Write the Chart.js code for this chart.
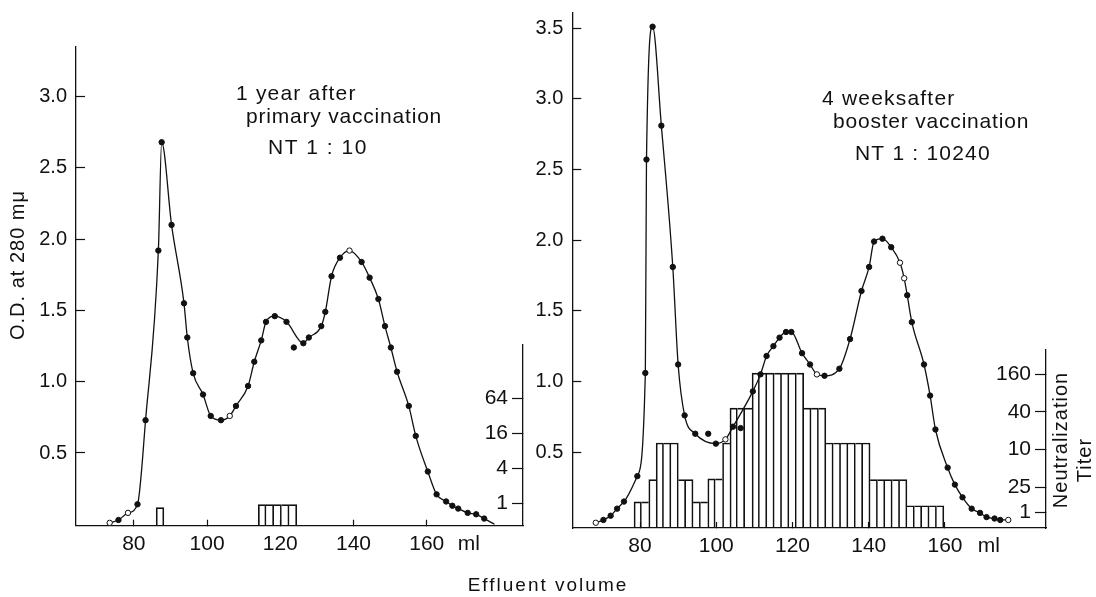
<!DOCTYPE html>
<html>
<head>
<meta charset="utf-8">
<script src="https://cdn.jsdelivr.net/npm/chart.js@4.4.1/dist/chart.umd.min.js"></script>
<style>
  body { margin: 0; background: #fff; }
  #page { position: relative; width: 1096px; height: 597px; background: #fff; overflow: hidden; }
  .panel { position: absolute; top: 0; height: 575px; }
  #xtitle { position: absolute; left: 0; top: 574px; width: 1096px; height: 24px; line-height: 24px;
            text-align: center; font: 19px 'Liberation Sans', Arial, sans-serif; letter-spacing: 2px; color: #111; }
</style>
</head>
<body>
<div id="page">
  <div class="panel" style="left:0;width:540px"><canvas id="leftChart"></canvas></div>
  <div class="panel" style="left:500px;width:596px"><canvas id="rightChart"></canvas></div>
  <div id="xtitle">Effluent volume</div>
</div>
<script>
// ---- left panel: 1 year after primary vaccination ----
const leftVolume = [73.4, 75.8, 78.4, 81.0, 83.2, 86.7, 87.6, 90.3, 93.7, 94.6, 96.2, 98.9, 101.0, 103.8, 106.2,
  107.9, 111.2, 112.9, 114.8, 116.1, 118.5, 121.7, 126.3, 127.8, 131.2, 132.3, 134.0, 136.3, 138.9, 142.2,
  144.4, 146.8, 148.6, 150.2, 151.9, 155.1, 157.0, 160.3, 162.7, 165.3, 167.0, 168.6, 171.2, 173.5, 175.7];
const leftOD = [0.01, 0.03, 0.08, 0.14, 0.73, 1.92, 2.68, 2.10, 1.55, 1.31, 1.06, 0.91, 0.76, 0.73, 0.76,
  0.83, 0.97, 1.14, 1.29, 1.42, 1.46, 1.42, 1.27, 1.31, 1.39, 1.49, 1.74, 1.87, 1.92, 1.84,
  1.73, 1.58, 1.39, 1.24, 1.07, 0.83, 0.62, 0.37, 0.21, 0.16, 0.13, 0.11, 0.08, 0.07, 0.04];
const leftCurveEnd = [178.5, 0.0];          // where the drawn curve stops
const leftOutVolume = [123.7];
const leftOutOD = [1.24];
const leftFraction = [87.15, 115.05, 117.15, 119.25, 121.35, 123.45];
const leftTiter = [0.84, 0.95, 0.95, 0.95, 0.95, 0.95];
const leftOdTicks = [0.5, 1.0, 1.5, 2.0, 2.5, 3.0];
const leftTiterTicks = [1, 4, 16, 64];
const leftTiterLabels = ['1', '4', '16', '64'];

// ---- right panel: 4 weeks after booster vaccination ----
const rightVolume = [68.4, 70.4, 72.3, 74.0, 75.8, 79.3, 81.4, 81.7, 83.3, 85.6, 88.6, 90.0, 91.7, 94.5, 99.9,
  102.4, 104.4, 109.6, 111.6, 113.2, 115.0, 116.6, 118.3, 119.7, 122.5, 124.6, 126.4, 128.4, 132.3, 135.1,
  138.1, 140.1, 141.4, 143.6, 145.9, 148.2, 149.3, 150.1, 151.3, 154.5, 156.1, 157.5, 160.7, 162.6, 164.6,
  167.0, 169.2, 170.9, 173.0, 174.5, 176.6];
const rightOD = [0.0, 0.02, 0.05, 0.10, 0.15, 0.33, 1.06, 2.57, 3.51, 2.81, 1.81, 1.12, 0.76, 0.63, 0.56,
  0.59, 0.68, 0.93, 1.05, 1.18, 1.25, 1.31, 1.35, 1.35, 1.20, 1.12, 1.05, 1.04, 1.09, 1.30,
  1.64, 1.81, 1.99, 2.01, 1.95, 1.84, 1.73, 1.61, 1.42, 1.12, 0.90, 0.66, 0.39, 0.27, 0.18,
  0.10, 0.07, 0.04, 0.03, 0.02, 0.02];
const rightOutVolume = [97.9, 106.4];
const rightOutOD = [0.63, 0.67];
const rightFraction = [79.40, 81.33, 83.27, 85.20, 87.14, 89.08, 91.01, 92.95, 94.88, 96.82, 98.75, 100.69,
  102.62, 104.56, 106.49, 108.43, 110.36, 112.30, 114.23, 116.17, 118.10, 120.04, 121.97, 123.91, 125.84,
  127.78, 129.71, 131.65, 133.58, 135.52, 137.45, 139.39, 141.32, 143.26, 145.19, 147.13, 149.06, 151.00,
  152.93, 154.87, 156.80, 158.74];
const rightTiter = [1.45, 1.45, 3.3, 12.7, 12.7, 12.7, 3.3, 3.3, 1.45, 1.45, 3.4, 3.4, 12.7, 46, 46, 46,
  167, 167, 167, 167, 167, 167, 167, 46, 46, 46, 12.7, 12.7, 12.7, 12.7, 12.7, 12.7,
  3.3, 3.3, 3.3, 3.3, 3.3, 1.26, 1.26, 1.26, 1.26, 1.26];
const rightOdTicks = [0.5, 1.0, 1.5, 2.0, 2.5, 3.0, 3.5];
const rightTiterTicks = [1, 2.5, 10, 40, 160];
const rightTiterLabels = ['1', '25', '10', '40', '160'];

const xTicks = [80, 100, 120, 140, 160];
const unitTickAt = 171.5;
const unitLabel = 'ml';

// marker style: which points are open circles
const leftOpen = [0, 2, 14, 28];
const rightOpen = [0, 15, 26, 35, 36, 50];

const INK = '#111';
Chart.defaults.font.family = "'Liberation Sans', Arial, sans-serif";
Chart.defaults.font.size = 20;
Chart.defaults.color = INK;
Chart.defaults.animation = false;

function pts(xs, ys) {
  return xs.map((x, i) => ({ x: x, y: ys[i] }));
}

function fixWidth(w) {
  return function (s) { s.width = w; s.paddingTop = 0; s.paddingBottom = 0; };
}

// one shared line between touching fractions, drawn by the taller one
function fractionBorder(c) {
  const d = c.dataset.data, i = c.dataIndex, h = d[i].y;
  const prev = i > 0 && d[i].x - d[i - 1].x < 2.5 ? d[i - 1] : null;
  const next = i < d.length - 1 && d[i + 1].x - d[i].x < 2.5 ? d[i + 1] : null;
  return {
    top: 1, bottom: 0,
    left: (!prev || prev.y < h) ? 1 : 0,
    right: (!next || next.y <= h) ? 1 : 0
  };
}

const notes = {
  id: 'notes',
  afterDraw(chart, args, opts) {
    const ctx = chart.ctx;
    opts.items.forEach(n => {
      ctx.save();
      ctx.font = n.size + "px 'Liberation Sans', Arial, sans-serif";
      ctx.fillStyle = INK;
      ctx.letterSpacing = (n.spacing || 0) + 'px';
      ctx.textAlign = n.align || 'left';
      ctx.textBaseline = 'middle';
      ctx.translate(n.x, n.y);
      if (n.rotate) ctx.rotate(n.rotate);
      ctx.fillText(n.text, 0, 0);
      ctx.restore();
    });
  }
};

function buildChart(id, p) {
  const axisBorder = { color: INK, width: 1.3 };
  return new Chart(document.getElementById(id), {
    type: 'line',
    data: {
      datasets: [
        {
          data: pts(p.volume.concat(p.end ? [p.end[0]] : []), p.od.concat(p.end ? [p.end[1]] : [])),
          borderColor: INK,
          borderWidth: 1.3,
          cubicInterpolationMode: 'monotone',
          pointRadius: c => c.dataIndex < p.volume.length ? 2.7 : 0,
          pointBackgroundColor: c => p.open.includes(c.dataIndex) ? '#fff' : INK,
          pointBorderColor: INK,
          pointBorderWidth: 1,
          yAxisID: 'y',
          order: 0
        },
        {
          data: pts(p.outVolume, p.outOD),
          showLine: false,
          pointRadius: 2.7,
          pointBackgroundColor: INK,
          pointBorderColor: INK,
          yAxisID: 'y',
          order: 1
        },
        {
          type: 'bar',
          data: pts(p.fraction, p.titer),
          backgroundColor: 'rgba(0,0,0,0)',
          borderColor: INK,
          borderWidth: fractionBorder,
          barPercentage: 1,
          categoryPercentage: 1,
          yAxisID: 'yT',
          order: 2
        }
      ]
    },
    options: {
      responsive: true,
      maintainAspectRatio: false,
      events: [],
      layout: { autoPadding: false, padding: p.pad },
      plugins: { legend: { display: false }, tooltip: { enabled: false }, notes: { items: p.notes } },
      scales: {
        x: {
          type: 'linear', min: p.xMin, max: p.xMax, offset: false,
          afterBuildTicks: s => { s.ticks = xTicks.concat([unitTickAt]).map(v => ({ value: v })); },
          ticks: { font: { size: 21 }, padding: 12, maxRotation: 0, autoSkip: false,
                   callback: v => v === unitTickAt ? unitLabel : String(v) },
          grid: { offset: false, drawOnChartArea: false, tickLength: -6, tickWidth: 1.2,
                  tickColor: c => (c.tick && c.tick.value === unitTickAt) ? 'rgba(0,0,0,0)' : INK },
          border: axisBorder,
          afterFit: s => { s.height = p.xHeight; s.paddingLeft = 0; s.paddingRight = 0; }
        },
        y: {
          type: 'linear', position: 'left', min: p.yMin, max: p.yMax,
          afterBuildTicks: s => { s.ticks = p.odTicks.map(v => ({ value: v })); },
          ticks: { padding: 18, autoSkip: false, callback: v => v.toFixed(1) },
          grid: { drawOnChartArea: false, tickLength: -9, tickWidth: 1.2, tickColor: INK },
          border: axisBorder,
          afterFit: fixWidth(p.yWidth)
        },
        yD: {
          type: 'linear', position: 'right', stack: 'titer', stackWeight: 1 - p.titerWeight,
          ticks: { display: false }, grid: { display: false }, border: { display: false },
          afterFit: fixWidth(0)
        },
        yT: {
          type: 'logarithmic', position: 'right', stack: 'titer', stackWeight: p.titerWeight,
          min: p.tMin, max: p.tMax, beginAtZero: false,
          afterBuildTicks: s => { s.ticks = p.titerTicks.map(v => ({ value: v })); },
          ticks: { mirror: true, padding: -15, autoSkip: false, font: { size: 21 },
                   callback: (v, i) => p.titerLabels[i] },
          grid: { drawOnChartArea: false, tickLength: -11, tickWidth: 1.2, tickColor: INK },
          border: axisBorder,
          afterFit: fixWidth(0)
        }
      }
    },
    plugins: [notes]
  });
}

buildChart('leftChart', {
  volume: leftVolume, od: leftOD, end: leftCurveEnd, open: leftOpen,
  outVolume: leftOutVolume, outOD: leftOutOD,
  fraction: leftFraction, titer: leftTiter,
  odTicks: leftOdTicks, titerTicks: leftTiterTicks, titerLabels: leftTiterLabels,
  xMin: 64.2, xMax: 186.3, yMin: -0.01, yMax: 3.35, tMin: 0.411, tMax: 531,
  titerWeight: 0.377, yWidth: 76, xHeight: 49.3,
  pad: { left: 0, right: 17, top: 46.7, bottom: 0 },
  notes: [
    { text: 'O.D. at 280 m\u03bc', x: 18.5, y: 265, size: 20, spacing: 1, align: 'center', rotate: -Math.PI / 2 },
    { text: '1 year after', x: 236, y: 94, size: 21, spacing: 1.2 },
    { text: 'primary vaccination', x: 246, y: 117, size: 21, spacing: 0.8 },
    { text: 'NT 1 : 10', x: 268, y: 148, size: 21, spacing: 1.5 }
  ]
});

buildChart('rightChart', {
  volume: rightVolume, od: rightOD, end: null, open: rightOpen,
  outVolume: rightOutVolume, outOD: rightOutOD,
  fraction: rightFraction, titer: rightTiter,
  odTicks: rightOdTicks, titerTicks: rightTiterTicks, titerLabels: rightTiterLabels,
  xMin: 62.24, xMax: 186.5, yMin: -0.037, yMax: 3.607, tMin: 0.555, tMax: 391,
  titerWeight: 0.3456, yWidth: 72.3, xHeight: 47,
  pad: { left: 0, right: 50, top: 13, bottom: 0 },
  notes: [
    { text: '4 weeksafter', x: 322, y: 99, size: 21, spacing: 1.2 },
    { text: 'booster vaccination', x: 333, y: 122, size: 21, spacing: 0.8 },
    { text: 'NT 1 : 10240', x: 355, y: 154, size: 21, spacing: 1.2 },
    { text: 'Neutralization', x: 561.5, y: 440, size: 20, spacing: 1, align: 'center', rotate: -Math.PI / 2 },
    { text: 'Titer', x: 585, y: 460, size: 20, spacing: 1, align: 'center', rotate: -Math.PI / 2 }
  ]
});
</script>
</body>
</html>
